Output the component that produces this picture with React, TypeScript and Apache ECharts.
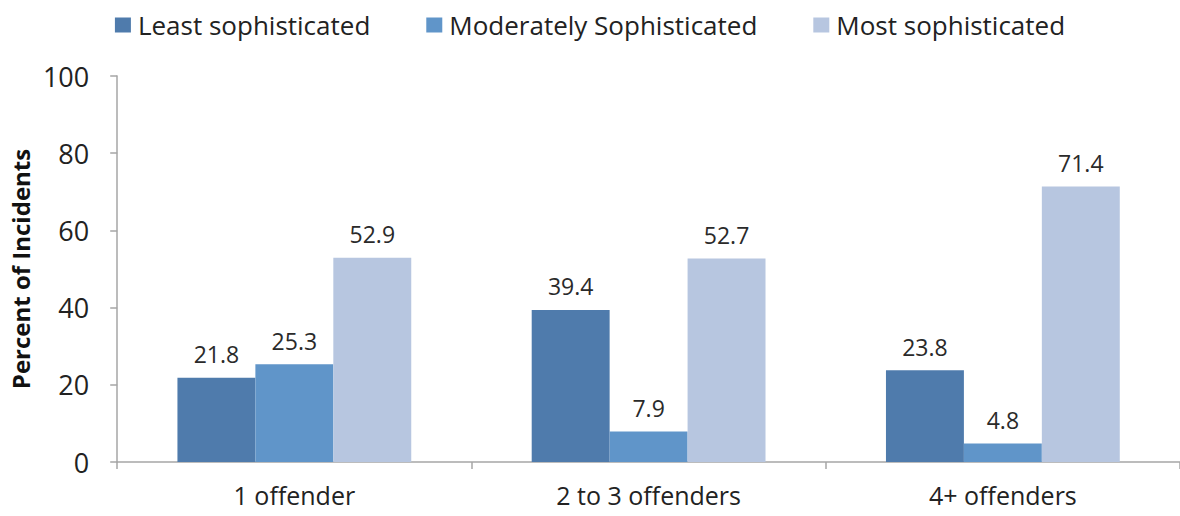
import React, { useEffect, useRef } from "react";
import * as echarts from "echarts";

const categories = ["1 offender", "2 to 3 offenders", "4+ offenders"];
const seriesNames = ["Least sophisticated", "Moderately Sophisticated", "Most sophisticated"];
const leastValues = [21.8, 39.4, 23.8];
const moderateValues = [25.3, 7.9, 4.8];
const mostValues = [52.9, 52.7, 71.4];
const yTicks = [0, 20, 40, 60, 80, 100];
const colors = ["#4F7BAC", "#6095C9", "#B7C6E0"];

const FONT = "Open Sans";

export default function App() {
  const ref = useRef<HTMLDivElement>(null);
  useEffect(() => {
    if (!ref.current) return;
    const chart = echarts.init(ref.current, null, { renderer: "svg" });
    const values = [leastValues, moderateValues, mostValues];
    chart.setOption({
      animation: false,
      textStyle: { fontFamily: FONT },
      legend: {
        top: 7,
        left: "center",
        itemWidth: 16,
        itemHeight: 15,
        itemGap: 56,
        icon: "rect",
        textStyle: { fontSize: 26, color: "#222", fontFamily: FONT, padding: [4, 0, 0, 2] },
        data: seriesNames,
      },
      grid: { left: 117, right: -5, top: 76, bottom: 54, containLabel: false },
      xAxis: {
        type: "category",
        data: categories,
        axisLine: { show: true, lineStyle: { color: "#A6A6A6", width: 1.5 } },
        axisTick: { show: true, length: 7, lineStyle: { color: "#A6A6A6", width: 1.5 } },
        axisLabel: { fontSize: 25, color: "#222", margin: 20, fontFamily: FONT },
      },
      yAxis: {
        type: "value",
        min: yTicks[0],
        max: yTicks[yTicks.length - 1],
        interval: 20,
        name: "Percent of Incidents",
        nameLocation: "middle",
        nameGap: 85,
        nameRotate: 90,
        nameTextStyle: { fontSize: 24, fontWeight: "bold", color: "#111", fontFamily: FONT },
        axisLine: { show: true, lineStyle: { color: "#A6A6A6", width: 1.5 } },
        axisTick: { show: true, length: 7, lineStyle: { color: "#A6A6A6", width: 1.5 } },
        axisLabel: { fontSize: 27, color: "#222", margin: 28, fontFamily: FONT, padding: [10, 0, 0, 0] },
        splitLine: { show: false },
      },
      series: seriesNames.map((name, i) => ({
        name,
        type: "bar",
        data: values[i],
        barGap: "0%",
        barCategoryGap: "34%",
        itemStyle: { color: colors[i] },
        label: {
          show: true,
          position: "top",
          distance: 12,
          fontSize: 23,
          color: "#2a2a2a",
          fontFamily: FONT,
          formatter: (p: any) => p.value.toFixed(1),
        },
      })),
    });
    return () => chart.dispose();
  }, []);
  return <div ref={ref} style={{ width: 1180, height: 516, position: "absolute", left: 0, top: 0 }} />;
}
